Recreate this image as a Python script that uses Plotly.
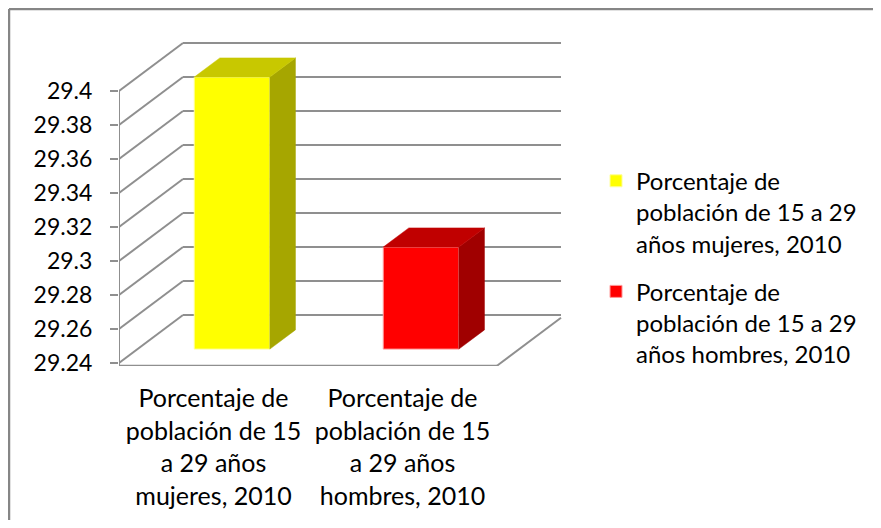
import plotly.graph_objects as go

# ---------------- data ----------------
categories = [
    "Porcentaje de<br>población de 15<br>a 29 años<br>mujeres, 2010",
    "Porcentaje de<br>población de 15<br>a 29 años<br>hombres, 2010",
]
series_names = [
    "Porcentaje de<br>población de 15 a 29<br>años mujeres, 2010",
    "Porcentaje de<br>población de 15 a 29<br>años hombres, 2010",
]
values = [29.40, 29.30]
y_ticks = [29.24, 29.26, 29.28, 29.30, 29.32, 29.34, 29.36, 29.38, 29.40]
y_tick_labels = ["29.24", "29.26", "29.28", "29.3", "29.32", "29.34", "29.36", "29.38", "29.4"]

# ---------------- style / geometry ----------------
front_colors = ["#FFFF00", "#FF0000"]
top_colors = ["#C8C800", "#C00000"]
side_colors = ["#A6A600", "#A00000"]
edge_colors = ["#FFFF99", "#FF9999"]
grid_color = "#8F8F8F"
FONT = "Lato"

W, H = 865, 512
ML, MB = 111, 154
PX_PER_CAT = 189
PX_PER_UNIT = 1700

BASE = y_ticks[0]
N = len(categories)
DEPTH_DX = 64 / PX_PER_CAT     # back wall shift (category units)
DEPTH_DY = 48 / PX_PER_UNIT    # back wall shift (value units)
F0, F1 = 0.29, 0.69            # bar front / back depth fractions
BAR_W = 0.4
FLOOR_DROP = 0.0016
TICK_DOWN = 0.003

fig = go.Figure()

# front faces of bars (real bars)
for i in range(N):
    fig.add_trace(go.Bar(
        x=[i + 0.5 + F0 * DEPTH_DX],
        y=[values[i] - BASE],
        base=[BASE + F0 * DEPTH_DY],
        width=BAR_W,
        name=series_names[i],
        legendgroup=str(i),
        marker=dict(color=front_colors[i], line=dict(color=edge_colors[i], width=1)),
        hoverinfo="skip",
    ))

# side and top faces
ddx = (F1 - F0) * DEPTH_DX
ddy = (F1 - F0) * DEPTH_DY
for i in range(N):
    xl = i + 0.5 + F0 * DEPTH_DX - BAR_W / 2
    xr = xl + BAR_W
    b = BASE + F0 * DEPTH_DY
    t = values[i] + F0 * DEPTH_DY
    fig.add_trace(go.Scatter(
        x=[xr, xr + ddx, xr + ddx, xr, xr], y=[b, b + ddy, t + ddy, t, b],
        fill="toself", fillcolor=side_colors[i], mode="lines",
        line=dict(color=side_colors[i], width=0.5), showlegend=False, hoverinfo="skip"))
    fig.add_trace(go.Scatter(
        x=[xl, xr, xr + ddx, xl + ddx, xl], y=[t, t, t + ddy, t + ddy, t],
        fill="toself", fillcolor=top_colors[i], mode="lines",
        line=dict(color=top_colors[i], width=0.5), showlegend=False, hoverinfo="skip"))

shapes = []
gl = dict(color=grid_color, width=2)
# gridlines: diagonal on side wall + horizontal on back wall
for v in y_ticks:
    shapes.append(dict(type="line", xref="x", yref="y", layer="below",
                       x0=0, y0=v, x1=DEPTH_DX, y1=v + DEPTH_DY, line=gl))
    shapes.append(dict(type="line", xref="x", yref="y", layer="below",
                       x0=DEPTH_DX, y0=v + DEPTH_DY, x1=N + DEPTH_DX, y1=v + DEPTH_DY, line=gl))
# front vertical axis line
shapes.append(dict(type="line", xref="x", yref="y", layer="below",
                   x0=0, y0=BASE - FLOOR_DROP, x1=0, y1=y_ticks[-1], line=gl))
# floor front edge and right edge
shapes.append(dict(type="line", xref="x", yref="y", layer="below",
                   x0=0, y0=BASE - FLOOR_DROP, x1=N, y1=BASE - FLOOR_DROP, line=gl))
shapes.append(dict(type="line", xref="x", yref="y", layer="below",
                   x0=N, y0=BASE - FLOOR_DROP, x1=N + DEPTH_DX, y1=BASE + DEPTH_DY - FLOOR_DROP, line=gl))
# category separator ticks
for k in range(N + 1):
    shapes.append(dict(type="line", xref="x", yref="y", layer="below",
                       x0=k, y0=BASE - FLOOR_DROP, x1=k, y1=BASE - FLOOR_DROP - TICK_DOWN, line=gl))
# chart border (left and top edges visible)
plot_w = W - ML
plot_h = H - MB
bl = dict(color="#868686", width=2.5)
bx = (1 - ML) / plot_w
by = 1 - 1 / plot_h
shapes.append(dict(type="line", xref="paper", yref="paper", layer="below",
                   x0=bx, y0=-0.6, x1=bx, y1=by, line=bl))
shapes.append(dict(type="line", xref="paper", yref="paper", layer="below",
                   x0=bx, y0=by, x1=1.2, y1=by, line=bl))

fig.update_layout(
    width=W, height=H,
    margin=dict(l=ML, r=0, t=0, b=MB, autoexpand=False),
    paper_bgcolor="white", plot_bgcolor="rgba(0,0,0,0)",
    barmode="overlay",
    shapes=shapes,
    font=dict(family=FONT, color="black", size=24),
    showlegend=True,
    legend=dict(
        xref="container", yref="container", x=0.6798, y=0.7057,
        xanchor="left", yanchor="top", valign="top",
        traceorder="grouped", tracegroupgap=14,
        bgcolor="rgba(0,0,0,0)", borderwidth=0,
        font=dict(family=FONT, size=24, color="black"),
    ),
    xaxis=dict(
        range=[0, plot_w / PX_PER_CAT], showgrid=False, zeroline=False, showline=False,
        tickmode="array", tickvals=[i + 0.5 for i in range(N)], ticktext=categories,
        ticks="", tickangle=0, automargin=False, ticklabelstandoff=15,
        tickfont=dict(family=FONT, size=25, color="black"),
        fixedrange=True,
    ),
    yaxis=dict(
        range=[29.4 - 275 / PX_PER_UNIT, 29.4 + 83 / PX_PER_UNIT],
        showgrid=False, zeroline=False, showline=False,
        tickmode="array", tickvals=y_ticks, ticktext=y_tick_labels,
        ticks="outside", ticklen=8, tickwidth=2, tickcolor=grid_color,
        ticklabelstandoff=13, automargin=False,
        tickfont=dict(family=FONT, size=23, color="black"),
        fixedrange=True,
    ),
)

fig.write_html("out.html")
